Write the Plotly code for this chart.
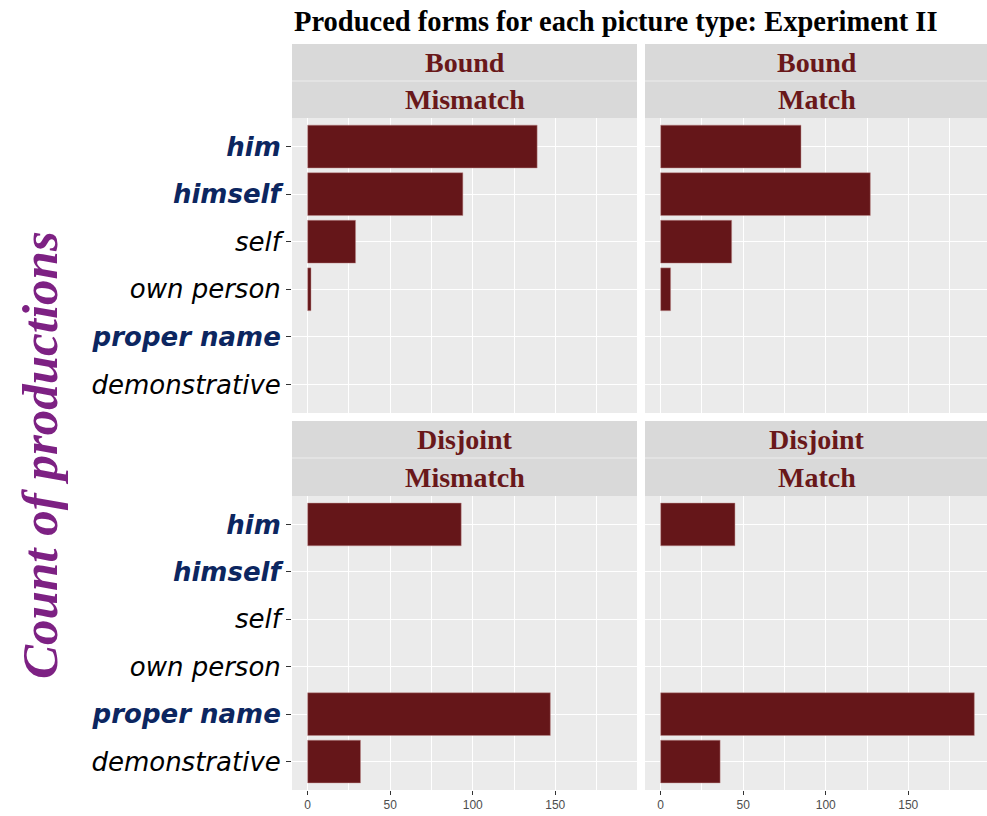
import plotly.graph_objects as go

# ---- data ----
forms = ["him", "himself", "self", "own person", "proper name", "demonstrative"]
bound_mismatch = [139, 94, 29, 2, 0, 0]
bound_match = [85, 127, 43, 6, 0, 0]
disjoint_mismatch = [93, 0, 0, 0, 147, 32]
disjoint_match = [45, 0, 0, 0, 190, 36]
x_ticks = [0, 50, 100, 150]
highlight = ["him", "himself", "proper name"]

panels = [
    ("Bound", "Mismatch", bound_mismatch),
    ("Bound", "Match", bound_match),
    ("Disjoint", "Mismatch", disjoint_mismatch),
    ("Disjoint", "Match", disjoint_match),
]

W, H = 987, 816
ML, MR, MT, MB = 292, 0, 44, 26
PW, PH = W - ML - MR, H - MT - MB

def px_x(p):
    return (p - ML) / PW

def px_y(p):
    return (H - MB - p) / PH

# left panel 292-637 (full), right panel 645-990 (cropped at window edge 987)
x_doms = [[0, px_x(637)], [px_x(645), 1.0]]
full_range = [-9.5, 199.5]
unit_px = (637 - 292) / (full_range[1] - full_range[0])
right_range = [-9.5, -9.5 + (987 - 645) / unit_px]
x_ranges = [full_range, right_range]
y_doms = [[px_y(413), px_y(118)], [0, px_y(496)]]
strip_rows = [(44, 81, 118), (421, 458, 496)]

bar_fill = "rgb(101,22,25)"
strip_col = "rgb(105,24,26)"
navy = "rgb(12,38,96)"
purple = "rgb(125,33,131)"

ticktext = []
for f in forms:
    if f in highlight:
        ticktext.append(f"<b><i><span style='color:{navy}'>{f}</span></i></b>")
    else:
        ticktext.append(f"<i>{f}</i>")

fig = go.Figure()
layout = dict(
    width=W, height=H,
    margin=dict(l=ML, r=MR, t=MT, b=MB),
    paper_bgcolor="white",
    plot_bgcolor="rgb(235,235,235)",
    showlegend=False,
    bargap=0.1,
)

shapes = []
annotations = []
for i, (top, bottom, vals) in enumerate(panels):
    r, c = divmod(i, 2)
    n = i + 1
    xa = "x" if n == 1 else f"x{n}"
    ya = "y" if n == 1 else f"y{n}"
    ys = [f for f, v in zip(forms, vals) if v > 0]
    xs = [v for v in vals if v > 0]
    fig.add_trace(go.Bar(
        x=xs, y=ys, orientation="h", xaxis=xa, yaxis=ya,
        marker=dict(color=bar_fill, line=dict(color="rgba(190,140,140,0.8)", width=0.6)),
        width=0.9, hoverinfo="x+y",
    ))
    xkey = "xaxis" if n == 1 else f"xaxis{n}"
    ykey = "yaxis" if n == 1 else f"yaxis{n}"
    layout[xkey] = dict(
        domain=x_doms[c], anchor=ya, range=x_ranges[c],
        tickvals=x_ticks, showticklabels=(r == 1),
        ticks="outside" if r == 1 else "", ticklen=4, tickcolor="#333333",
        tickfont=dict(family="Liberation Sans, Arial", size=12, color="rgb(77,77,77)"),
        showgrid=True, gridcolor="white", gridwidth=1.4,
        minor=dict(tickvals=[25, 75, 125, 175], showgrid=True, gridcolor="white", gridwidth=0.6, ticks=""),
        zeroline=False, showline=False, fixedrange=True,
    )
    layout[ykey] = dict(
        domain=y_doms[r], anchor=xa, type="category",
        categoryorder="array", categoryarray=forms[::-1],
        range=[-0.6, len(forms) - 0.4],
        tickvals=forms, ticktext=ticktext, showticklabels=(c == 0),
        ticks="outside" if c == 0 else "", ticklen=5, tickcolor="#333333",
        tickfont=dict(family="DejaVu Sans", size=26, color="black"),
        showgrid=True, gridcolor="white", gridwidth=1.4,
        zeroline=False, showline=False, fixedrange=True,
    )
    # strips (centre label on full-width panel, as in the reference)
    s0, smid, s1 = strip_rows[r]
    full_right = px_x(637) if c == 0 else px_x(990)
    for (a, b, label) in [(s0, smid, top), (smid, s1, bottom)]:
        shapes.append(dict(type="rect", xref="paper", yref="paper",
                           x0=x_doms[c][0], x1=x_doms[c][1], y0=px_y(b), y1=px_y(a),
                           fillcolor="rgb(217,217,217)", line=dict(width=0), layer="below"))
        annotations.append(dict(xref="paper", yref="paper",
                                x=(x_doms[c][0] + full_right) / 2, y=px_y((a + b) / 2),
                                text=f"<b>{label}</b>", showarrow=False,
                                xanchor="center", yanchor="middle",
                                font=dict(family="Liberation Serif, Times New Roman", size=28, color=strip_col)))
    shapes.append(dict(type="line", xref="paper", yref="paper",
                       x0=x_doms[c][0], x1=x_doms[c][1], y0=px_y(smid), y1=px_y(smid),
                       line=dict(color="rgba(240,240,240,0.9)", width=1)))

# y-axis title
annotations.append(dict(xref="paper", yref="paper", x=px_x(40), y=px_y(455),
                        text="<b><i>Count of productions</i></b>", textangle=-90, showarrow=False,
                        xanchor="center", yanchor="middle",
                        font=dict(family="Liberation Serif, Times New Roman", size=51, color=purple)))

# chart title
annotations.append(dict(xref="paper", yref="paper", x=px_x(292), y=px_y(22),
                        text="<b>Produced forms for each picture type: Experiment II</b>",
                        showarrow=False, xanchor="left", yanchor="middle",
                        font=dict(family="Liberation Serif, Times New Roman", size=28.5, color="black")))

layout["shapes"] = shapes
layout["annotations"] = annotations
fig.update_layout(**layout)
fig.write_html("out.html", config={"displayModeBar": False},
               post_script="document.body.style.margin='0';document.body.style.overflow='hidden';")
